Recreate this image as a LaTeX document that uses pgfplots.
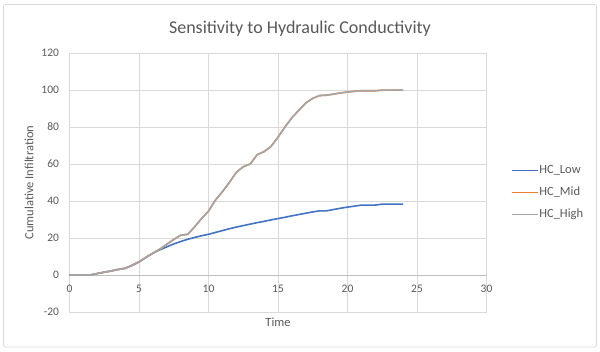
\documentclass[border=0pt]{standalone}
\usepackage{pgfplots}
\pgfplotsset{compat=1.18}
\usepackage{fontspec}
\setmainfont{Carlito}
\definecolor{txt}{HTML}{595959}
\definecolor{gridc}{HTML}{D9D9D9}
\definecolor{axc}{HTML}{BFBFBF}
\definecolor{cLow}{HTML}{4472C4}
\definecolor{cMid}{HTML}{ED7D31}
\definecolor{cHigh}{HTML}{A5A5A5}

\pgfplotstableread{
t y
0 0
0.5 0
1 0
1.5 0
2 0.8
2.5 1.5
3 2.2
3.5 3
4 3.6
4.5 5.2
5 7.1
5.5 9.5
6 11.8
6.5 14
7 16.6
7.5 19.2
8 21.5
8.5 22
9 26
9.5 30.5
10 34.5
10.5 40.5
11 45
11.5 50
12 55.5
12.5 58.5
13 60
13.5 65
14 66.7
14.5 69.5
15 74.5
15.5 80
16 85
16.5 89
17 93
17.5 95.5
18 97
18.5 97.2
19 97.8
19.5 98.4
20 98.9
20.5 99.3
21 99.6
21.5 99.6
22 99.6
22.5 99.9
23 99.9
23.5 99.9
24 99.9
}\highdata

\pgfplotstableread{
t y
0 0
0.5 0
1 0
1.5 0
2 0.8
2.5 1.5
3 2.2
3.5 3
4 3.6
4.5 5.2
5 7.1
5.5 9.5
6 11.8
6.5 13.6
7 15.2
7.5 16.8
8 18.1
8.5 19.3
9 20.3
9.5 21.2
10 22.0
10.5 23.0
11 24.0
11.5 25.0
12 25.9
12.5 26.7
13 27.5
13.5 28.3
14 29.0
14.5 29.8
15 30.5
15.5 31.2
16 32.0
16.5 32.7
17 33.4
17.5 34.1
18 34.7
18.5 34.7
19 35.4
19.5 36.1
20 36.7
20.5 37.2
21 37.8
21.5 37.8
22 37.8
22.5 38.3
23 38.3
23.5 38.3
24 38.3
}\lowdata

\begin{document}
\begin{tikzpicture}[x=1pt,y=1pt]
\useasboundingbox (0,0) rectangle (600,351);
\draw[gridc, line width=0.8pt, rounded corners=2pt] (3.5,4) rectangle (596.5,346.5);
\begin{axis}[
  at={(69.5pt,39pt)}, anchor=south west,
  scale only axis, width=417pt, height=259pt,
  xmin=0, xmax=30, ymin=-20, ymax=120,
  xtick={0,5,...,30}, ytick={-20,0,...,120},
  grid=major, grid style={gridc, line width=0.7pt},
  axis line style={draw=none},
  major tick length=0pt,
  /pgf/number format/assume math mode=true,
  ticklabel style={font=\fontsize{11.5}{13}\selectfont, text=txt},
  xticklabel style={yshift=30pt},
  yticklabel style={xshift=-7pt},
  title={Sensitivity to Hydraulic Conductivity},
  title style={font=\fontsize{18}{21}\selectfont, text=txt, at={(axis description cs:0.5,1)}, anchor=center, yshift=18pt, xshift=22pt},
  xlabel={Time},
  xlabel style={font=\fontsize{12.5}{14}\selectfont, text=txt, at={(axis description cs:0.5,0)}, anchor=center, yshift=-10pt},
  ylabel={Cumulative Infiltration},
  ylabel style={font=\fontsize{12.5}{14}\selectfont, text=txt, at={(axis description cs:-0.097,0.5)}, anchor=center, rotate=0},
  legend style={draw=none, fill=none, at={(axis description cs:1,0.5)}, anchor=west, xshift=24pt, yshift=-10pt,
    font=\fontsize{12.5}{14}\selectfont, text=txt, inner sep=0pt,
    nodes={inner sep=1pt, text height=8.5pt, text depth=2.5pt},
    row sep=9pt},
  legend cell align=left,
  legend image code/.code={\draw[#1] (0pt,0pt) -- (26pt,0pt);},
]
\draw[axc, line width=0.8pt] (axis cs:0,0) -- (axis cs:30,0);
\addplot[cLow, line width=1.6pt] table[x=t,y=y] {\lowdata};
\addplot[cMid, line width=1.6pt] table[x=t,y=y] {\highdata};
\addplot[cHigh, line width=1.6pt] table[x=t,y=y] {\highdata};
\legend{HC\_Low, HC\_Mid, HC\_High}
\end{axis}
\end{tikzpicture}
\end{document}
